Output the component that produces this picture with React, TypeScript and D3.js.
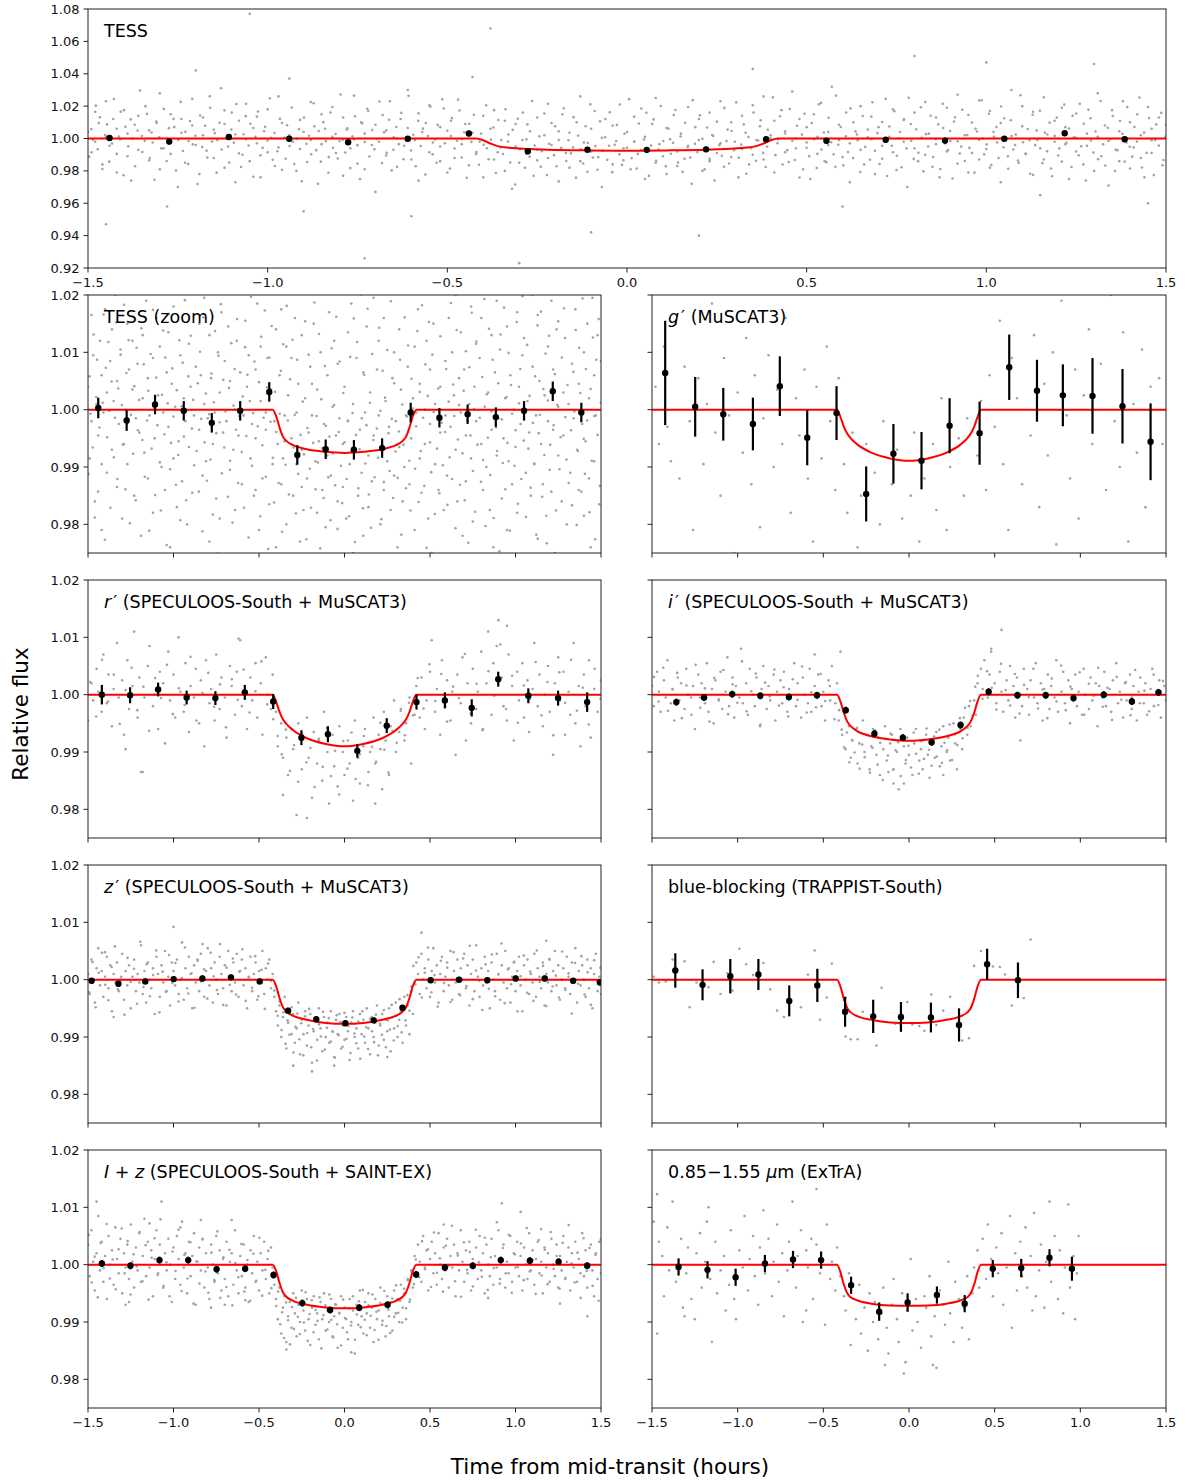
import React from 'react';
import * as d3 from 'd3';

const W = 1187;
const H = 1481;

// ---------- shared axes values ----------
const xTicks = [-1.5, -1.0, -0.5, 0.0, 0.5, 1.0, 1.5];
const topYTicks = [0.92, 0.94, 0.96, 0.98, 1.0, 1.02, 1.04, 1.06, 1.08];
const rowYTicks = [0.98, 0.99, 1.0, 1.01, 1.02];

// model curve sample times (hours)
const modelTimes = [-1.5, -0.42, -0.4, -0.38, -0.36, -0.34, -0.3, -0.22, -0.11, 0, 0.11, 0.22, 0.3, 0.34, 0.36, 0.38, 0.4, 0.42, 1.5];
const tessModel = [1, 1, 0.9989, 0.9969, 0.9953, 0.99455, 0.9938, 0.9931, 0.99265, 0.99245, 0.99265, 0.9931, 0.9938, 0.99455, 0.9953, 0.9969, 0.9989, 1, 1];
const gModel = [1, 1, 0.9987, 0.997, 0.9958, 0.995, 0.9939, 0.9925, 0.9915, 0.9911, 0.9915, 0.9925, 0.9939, 0.995, 0.9958, 0.997, 0.9987, 1, 1];
const rModel = [1, 1, 0.9988, 0.997, 0.9957, 0.9949, 0.9938, 0.9924, 0.9914, 0.991, 0.9914, 0.9924, 0.9938, 0.9949, 0.9957, 0.997, 0.9988, 1, 1];
const iModel = [1, 1, 0.9988, 0.9968, 0.9953, 0.9945, 0.9936, 0.99275, 0.9922, 0.99195, 0.9922, 0.99275, 0.9936, 0.9945, 0.9953, 0.9968, 0.9988, 1, 1];
const zModel = [1, 1, 0.9989, 0.9968, 0.9952, 0.99445, 0.9937, 0.993, 0.99245, 0.9923, 0.99245, 0.993, 0.9937, 0.99445, 0.9952, 0.9968, 0.9989, 1, 1];
const blueModel = [1, 1, 0.9988, 0.9966, 0.995, 0.9943, 0.9936, 0.993, 0.99255, 0.99245, 0.99255, 0.993, 0.9936, 0.9943, 0.995, 0.9966, 0.9988, 1, 1];
const izModel = [1, 1, 0.9989, 0.9968, 0.9952, 0.9944, 0.9937, 0.993, 0.99255, 0.9924, 0.99255, 0.993, 0.9937, 0.9944, 0.9952, 0.9968, 0.9989, 1, 1];
const extraModel = [1, 1, 0.9987, 0.9965, 0.995, 0.9943, 0.99375, 0.9932, 0.99288, 0.99282, 0.99288, 0.9932, 0.99375, 0.9943, 0.995, 0.9965, 0.9987, 1, 1];

// ---------- binned points: [time (h), relative flux, error] ----------
const tessBinned = [[-1.44, 1.0003, 0.0018], [-1.274, 0.9981, 0.0018], [-1.108, 1.0009, 0.0017], [-0.94, 0.9998, 0.0017], [-0.776, 0.9977, 0.0017], [-0.61, 0.9998, 0.0017], [-0.44, 1.0031, 0.0017], [-0.276, 0.9921, 0.0017], [-0.11, 0.9931, 0.0017], [0.055, 0.993, 0.0017], [0.22, 0.9933, 0.0017], [0.387, 0.9995, 0.0017], [0.555, 0.9986, 0.0017], [0.72, 0.9992, 0.0017], [0.885, 0.9987, 0.0017], [1.05, 0.9998, 0.0017], [1.218, 1.0032, 0.0017], [1.385, 0.9995, 0.0017]];
const gBinned = [[-1.423, 1.0064, 0.0091], [-1.248, 1.0005, 0.0052], [-1.084, 0.9992, 0.0046], [-0.911, 0.9975, 0.0046], [-0.754, 1.0041, 0.0052], [-0.594, 0.9951, 0.0048], [-0.423, 0.9994, 0.0047], [-0.25, 0.9853, 0.0048], [-0.091, 0.9923, 0.0052], [0.073, 0.9911, 0.005], [0.237, 0.9972, 0.0048], [0.412, 0.9959, 0.0055], [0.585, 1.0074, 0.0057], [0.747, 1.0033, 0.0054], [0.898, 1.0025, 0.0054], [1.071, 1.0024, 0.0066], [1.246, 1.0006, 0.0065], [1.41, 0.9944, 0.0067]];
const rBinned = [[-1.419, 1.0, 0.0017], [-1.254, 0.9999, 0.0014], [-1.09, 1.0009, 0.0012], [-0.923, 0.9995, 0.0012], [-0.755, 0.9994, 0.0012], [-0.583, 1.0004, 0.0013], [-0.417, 0.9988, 0.0013], [-0.252, 0.9925, 0.0013], [-0.097, 0.9931, 0.0014], [0.075, 0.9902, 0.0012], [0.247, 0.9946, 0.0013], [0.421, 0.9987, 0.0013], [0.587, 0.999, 0.0014], [0.744, 0.9977, 0.0015], [0.899, 1.0027, 0.0013], [1.075, 0.9998, 0.0013], [1.249, 0.9994, 0.0013], [1.419, 0.9987, 0.0017]];
const iBinned = [[-1.358, 0.9987, 0.0006], [-1.196, 0.9995, 0.0006], [-1.032, 1.0001, 0.0006], [-0.868, 0.9998, 0.0006], [-0.701, 0.9996, 0.0006], [-0.537, 0.9999, 0.0006], [-0.369, 0.9973, 0.0006], [-0.202, 0.9932, 0.0006], [-0.036, 0.9925, 0.0006], [0.132, 0.9917, 0.0006], [0.301, 0.9947, 0.0006], [0.465, 1.0005, 0.0006], [0.633, 0.9999, 0.0006], [0.798, 0.9999, 0.0006], [0.96, 0.9994, 0.0006], [1.137, 1.0, 0.0006], [1.301, 0.9988, 0.0006], [1.456, 1.0004, 0.0006]];
const zBinned = [[-1.479, 0.9998, 0.0005], [-1.322, 0.9993, 0.0005], [-1.165, 0.9997, 0.0005], [-0.999, 1.0001, 0.0005], [-0.831, 1.0002, 0.0005], [-0.664, 1.0004, 0.0005], [-0.496, 0.9997, 0.0005], [-0.33, 0.9946, 0.0005], [-0.165, 0.9931, 0.0005], [0.005, 0.9924, 0.0005], [0.171, 0.9929, 0.0005], [0.339, 0.9951, 0.0005], [0.504, 0.9999, 0.0005], [0.67, 1.0, 0.0005], [0.835, 0.9999, 0.0005], [1.001, 1.0002, 0.0005], [1.171, 1.0002, 0.0005], [1.337, 0.9998, 0.0005], [1.494, 0.9995, 0.0005]];
const blueBinned = [[-1.364, 1.0016, 0.003], [-1.205, 0.9991, 0.0027], [-1.043, 1.0006, 0.003], [-0.879, 1.0009, 0.0027], [-0.699, 0.9963, 0.0027], [-0.535, 0.999, 0.0029], [-0.373, 0.9944, 0.0026], [-0.209, 0.9936, 0.0029], [-0.047, 0.9935, 0.0026], [0.128, 0.9934, 0.0026], [0.292, 0.9921, 0.0029], [0.456, 1.0027, 0.0027], [0.636, 0.9999, 0.0031]];
const izBinned = [[-1.419, 1.0002, 0.0006], [-1.252, 0.9998, 0.0006], [-1.082, 1.0008, 0.0006], [-0.914, 1.0008, 0.0006], [-0.748, 0.9992, 0.0006], [-0.581, 0.9993, 0.0006], [-0.415, 0.9982, 0.0006], [-0.247, 0.9933, 0.0006], [-0.084, 0.9921, 0.0006], [0.086, 0.9925, 0.0006], [0.252, 0.993, 0.0006], [0.419, 0.9983, 0.0006], [0.587, 0.9995, 0.0006], [0.75, 0.9998, 0.0006], [0.914, 1.0008, 0.0006], [1.084, 1.0007, 0.0006], [1.252, 1.0005, 0.0006], [1.419, 0.9998, 0.0006]];
const extraBinned = [[-1.345, 0.9996, 0.0015], [-1.176, 0.9991, 0.0015], [-1.012, 0.9978, 0.0015], [-0.841, 1.0002, 0.0015], [-0.677, 1.0009, 0.0015], [-0.513, 1.0008, 0.0015], [-0.338, 0.9964, 0.0015], [-0.174, 0.9918, 0.0016], [-0.008, 0.9934, 0.0016], [0.163, 0.9947, 0.0015], [0.325, 0.9932, 0.0015], [0.489, 0.9993, 0.0015], [0.655, 0.9994, 0.0016], [0.82, 1.0012, 0.0015], [0.951, 0.9993, 0.0021]];

// ---------- unbinned points, flat pairs: time, flux offset from 1 (units of 1e-4) ----------
// arrays named *Grey use time in 0.01 h; arrays named *Grey2 use time in 0.001 h
const tessGrey = [
-150,40,-149,-85,-148,165,-148,-20,-147,95,-146,-160,-145,230,-145,10,-144,-45,-143,120,
-142,-210,-142,60,-141,-5,-140,175,-139,-110,-139,30,-138,-260,-137,85,-136,140,-136,-70,
-135,15,-134,200,-133,-135,-133,50,-132,-25,-131,105,-130,-190,-130,280,-129,-60,-128,0,
-127,150,-127,-95,-126,70,-125,-300,-124,35,-124,120,-123,-150,-122,-15,-121,245,-121,80,
-120,-40,-119,-220,-118,130,-118,20,-117,-75,-116,190,-115,-120,-115,55,-114,-10,-113,310,
-112,-180,-112,90,-111,-50,-110,160,-109,-270,-109,25,-108,110,-107,-100,-106,-5,-106,215,
-105,-140,-104,65,-103,-30,-103,135,-102,-240,-101,45,-100,180,-100,-85,-99,5,-98,-170,
-97,260,-97,-55,-96,95,-95,-125,-94,20,-94,370,-93,-20,-92,-200,-91,115,-91,-65,
-90,40,-89,-145,-88,225,-88,-10,-87,75,-86,-280,-85,150,-85,-35,-84,60,-83,-115,
-82,10,-82,195,-81,-90,-80,-15,-79,130,-79,-230,-78,55,-77,-60,-76,265,-76,-5,
-75,-155,-74,100,-73,30,-73,-190,-72,170,-71,-40,-70,85,-70,-330,-69,-20,-68,145,
-67,-105,-67,50,-66,230,-65,-70,-64,0,-64,-175,-63,120,-62,-45,-61,300,-61,65,
-60,-130,-59,-10,-58,155,-58,-260,-57,40,-56,95,-55,-85,-55,205,-54,-25,-53,-150,
-52,70,-52,-50,-51,185,-50,-210,-49,15,-49,110,-48,-120,-47,240,-46,-35,-46,-5,
-45,90,-44,-165,-43,35,-43,380,-42,-95,-41,-20,-40,140,-40,-240,-39,-60,-38,60,
-37,-130,-37,175,-36,-85,-35,-10,-34,110,-34,-200,-33,25,-32,-310,-31,90,-31,-50,
-30,-150,-29,160,-28,-95,-28,-5,-27,45,-26,-230,-25,130,-25,-70,-24,-175,-23,20,
-22,215,-22,-120,-21,-40,-20,75,-19,-265,-19,-10,-18,150,-17,-90,-16,35,-16,-180,
-15,-55,-14,100,-13,-140,-13,260,-12,-25,-11,-205,-10,60,-10,-80,-9,170,-8,-115,
-7,5,-7,-300,-6,120,-5,-45,-4,-160,-4,80,-3,-15,-2,210,-1,-135,-1,-60,
0,40,1,-190,2,135,2,-20,3,-95,4,185,5,-250,5,10,6,-70,7,90,
8,-150,8,250,9,-35,10,-110,11,65,11,-220,12,-5,13,145,14,-80,14,-170,
15,30,16,-125,17,195,17,-45,18,-280,19,70,20,-10,20,120,21,-200,22,-60,
23,160,23,-140,24,15,25,-90,26,230,26,-30,27,-175,28,55,29,-115,29,100,
30,-20,31,-240,32,140,32,-65,33,35,34,-160,35,205,35,-100,36,-10,37,75,
38,-130,38,260,39,-50,40,20,41,-210,41,110,42,-5,43,175,44,-85,44,45,
45,-145,46,290,47,0,47,-60,48,120,49,-190,50,70,50,-25,51,-250,52,150,
53,10,53,-95,54,220,55,-140,56,40,56,-40,57,320,58,-175,59,85,59,-10,
60,-115,61,160,62,-30,62,-270,63,100,64,25,65,-70,65,200,66,-160,67,55,
68,-5,68,135,69,-220,70,70,71,-45,71,-125,72,245,73,10,74,-85,74,180,
75,-195,76,40,77,-20,77,115,78,-300,79,90,80,-60,80,160,81,-140,82,5,
83,225,83,-100,84,30,85,-175,86,130,86,-35,87,-240,88,65,89,190,89,-80,
90,-15,91,105,92,-155,92,270,93,-50,94,20,95,-210,95,145,96,-90,97,60,
98,-130,98,235,99,0,100,-65,101,170,101,-180,102,40,103,-25,104,95,104,-270,
105,125,106,-110,107,15,107,300,108,-40,109,-150,110,75,110,200,111,-95,112,-10,
113,165,113,-225,114,50,115,-60,116,255,116,-130,117,25,118,-185,119,110,119,-20,
120,-105,121,190,122,-35,122,70,123,-250,124,140,125,5,125,-80,126,215,127,-160,
128,30,128,-45,129,125,130,-200,131,280,131,10,132,-110,133,80,134,-15,134,-290,
135,175,136,-70,137,45,137,-140,138,230,139,-25,140,100,140,-185,141,-55,142,150,
143,-120,143,20,144,-240,145,195,146,60,146,-90,147,-10,148,130,149,-165,150,85,
-105,770,-38,680,-73,-740,-30,-770,-145,-530,80,510,20,-600,130,460,-10,-580,60,-420,
100,470,-120,420,-90,-450,145,-400,-60,-480,35,430,-128,-420,115,-350
];

const tessGrey2 = [
-1497,-112,-1491,58,-1486,-7,-1478,203,-1473,-66,-1467,131,-1460,-188,-1452,22,-1447,87,-1441,-143,
-1433,-31,-1428,244,-1420,-95,-1414,12,-1409,166,-1401,-227,-1396,73,-1388,-48,-1381,118,-1376,-2,
-1369,-171,-1362,49,-1355,296,-1349,-83,-1342,-14,-1336,152,-1328,-121,-1323,37,-1315,-255,-1309,96,
-1302,8,-1296,-61,-1289,183,-1281,-139,-1275,64,-1270,-24,-1262,121,-1255,-198,-1249,-9,-1242,226,
-1236,-77,-1229,41,-1221,-158,-1216,108,-1208,-36,-1201,17,-1195,-281,-1188,142,-1182,-53,-1174,79,
-1168,-117,-1161,261,-1155,-19,-1147,33,-1142,-211,-1134,97,-1128,-68,-1120,174,-1115,4,-1107,-149,
-1101,56,-1094,-27,-1087,213,-1080,-92,-1074,-176,-1067,26,-1061,138,-1053,-43,-1048,91,-1040,-236,
-1034,11,-1027,167,-1020,-104,-1014,-58,-1007,72,-1000,-12,-994,249,-986,-131,-981,34,-973,-79,
-966,121,-960,-193,-953,6,-946,82,-939,-47,-933,191,-926,-158,-919,-1,-913,58,-905,-264,
-899,129,-892,-33,-885,17,-879,-97,-872,218,-865,-72,-858,46,-852,-143,-845,101,-838,-16,
-831,-212,-825,161,-818,-57,-811,28,-805,-124,-797,272,-791,-8,-784,-87,-778,63,-770,-183,
-764,13,-757,137,-750,-41,-743,-251,-737,94,-730,-22,-723,184,-717,-111,-709,52,-703,-66,
-696,-3,-689,229,-682,-152,-676,38,-669,-89,-662,116,-655,-197,-649,7,-642,71,-635,-35,
-628,158,-622,-128,-615,-11,-608,264,-601,-74,-595,23,-588,-171,-581,109,-574,-46,-568,61,
-561,-223,-554,15,-547,197,-541,-98,-534,-6,-527,84,-520,-140,-514,242,-507,-29,-500,48,
-493,-186,-487,127,-480,-62,-473,-14,-466,173,-460,-117,-453,39,-446,-243,-439,91,-433,-21,
-426,146,-419,-84,-412,-162,-406,31,-399,-39,-392,205,-385,-128,-379,-7,-372,68,-365,-213,
-358,114,-352,-55,-345,-96,-338,181,-331,-19,-325,-148,-318,53,-311,-284,-304,122,-298,-66,
-291,-9,-284,-181,-277,87,-271,-112,-264,231,-257,-44,-250,-135,-244,14,-237,-78,-230,154,
-223,-226,-217,-32,-210,96,-203,-103,-196,-171,-190,45,-183,-58,-176,187,-169,-139,-163,-11,
-156,-92,-149,132,-142,-242,-136,18,-129,-67,-122,-154,-115,76,-109,-28,-102,211,-95,-118,
-88,-47,-82,-193,-75,107,-68,-76,-61,8,-55,-132,-48,162,-41,-208,-34,-39,-28,84,
-21,-98,-14,-163,-7,29,0,-57,6,243,13,-121,20,-19,27,-186,33,92,40,-72,
47,-6,54,159,61,-231,67,-44,74,118,81,-137,88,-69,94,201,101,-15,108,-172,
115,61,122,-94,128,-27,135,176,142,-148,149,12,155,-206,162,97,169,-53,176,-118,
183,237,189,-33,196,-84,203,143,210,-2,216,-191,223,68,230,-126,237,21,244,-259,
250,104,257,-41,264,-107,271,189,277,-16,284,-154,291,46,298,-73,304,223,311,-119,
318,-38,325,87,332,-218,338,9,345,-61,352,161,359,-137,365,-12,372,112,379,-89,
386,-176,392,54,399,2,406,254,413,-103,419,-29,426,137,433,-161,440,31,446,-72,
453,182,460,-14,467,-133,473,79,480,-241,487,24,494,153,500,-57,507,-109,514,96,
521,-4,528,-182,534,211,541,-68,548,37,555,-146,561,128,568,-23,575,-97,582,265,
588,-39,595,71,602,-166,609,14,615,-83,622,186,629,-121,636,44,642,-11,649,-207,
656,139,663,-52,670,8,676,-131,683,224,690,-76,697,33,703,-158,710,102,717,-19,
724,-232,730,74,737,-45,744,169,751,-107,757,1,764,-178,771,119,778,-61,784,252,
791,-14,798,-126,805,57,811,-88,818,193,825,-203,832,27,838,-49,845,141,852,-114,
859,-3,866,87,872,-189,879,214,886,-31,893,-72,899,46,906,-247,913,131,920,-17,
926,-93,933,178,940,-139,947,22,953,-58,960,99,967,-211,974,43,980,-7,987,236,
994,-98,1001,-36,1007,153,1014,-164,1021,11,1028,71,1034,-121,1041,198,1048,-54,1055,-2,
1061,-187,1068,113,1075,-68,1082,24,1088,-136,1095,267,1102,-23,1109,-94,1115,58,1122,-218,
1129,147,1136,-41,1142,-9,1149,171,1156,-152,1163,36,1169,-79,1176,98,1183,-233,1190,16,
1196,129,1203,-61,1210,-143,1217,209,1223,-27,1230,62,1237,-176,1244,8,1250,154,1257,-104,
1264,-48,1271,91,1277,-259,1284,177,1291,-13,1298,-87,1304,43,1311,-128,1318,232,1325,-36,
1331,-167,1338,66,1345,-3,1352,139,1358,-201,1365,-72,1372,108,1379,29,1385,-143,1392,194,
1399,-51,1406,-112,1412,71,1419,-19,1426,253,1433,-179,1439,36,1446,-89,1453,126,1460,-11,
1466,-226,1473,87,1480,-44,1487,158,1493,-133,1499,12
];

const gGrey = [
-148,40,-146,-60,-143,110,-141,-30,-139,-90,-136,150,-134,-120,-131,75,-128,-20,-126,-210,
-123,55,-120,-95,-118,10,-115,185,-113,-40,-110,-150,-108,90,-105,-10,-102,-250,-100,30,
-97,-75,-95,125,-92,-130,-90,60,-87,-205,-85,-15,-82,95,-79,-100,-77,35,-74,-60,
-72,160,-69,-180,-66,20,-64,-45,-61,70,-59,-120,-56,-230,-54,40,-51,-85,-48,110,
-46,-20,-43,-140,-41,55,-38,-95,-36,-180,-33,-40,-30,-240,-28,-150,-25,-60,-23,-310,
-20,-110,-17,-200,-15,-20,-12,-280,-10,-130,-7,-70,-4,-190,-2,-330,1,-150,3,-40,
6,-230,9,-120,11,-290,14,-60,16,-175,19,20,22,-210,24,-100,27,-330,29,-50,
32,-150,34,-15,37,-260,40,-80,42,15,45,-140,47,60,50,-30,53,155,55,-95,
58,-210,60,90,63,20,66,-130,68,215,71,-45,73,130,76,-170,79,45,81,-80,
84,100,86,-235,89,190,92,-10,94,-120,97,70,99,-190,102,25,105,140,107,-60,
110,-280,112,80,115,-140,118,200,120,-20,123,-100,125,135,128,-230,131,10,133,-75,
136,105,138,-170,141,40,144,-300,146,55,148,-60
];

const rGrey = [
-150,-45,-148,20,-147,-10,-145,45,-144,5,-142,-30,-141,70,-139,-15,-138,35,-136,-55,
-135,10,-133,90,-132,-5,-130,25,-129,-70,-127,60,-126,-25,-124,15,-123,110,-121,-40,
-120,30,-118,-135,-117,-5,-115,50,-114,85,-112,-20,-111,0,-109,-60,-108,40,-106,20,
-105,-85,-103,75,-102,-10,-100,35,-99,-40,-97,100,-96,5,-94,-30,-93,55,-91,-65,
-90,15,-88,-5,-87,45,-85,-50,-84,25,-82,-90,-81,60,-79,-15,-78,10,-76,-45,
-75,70,-73,-25,-72,30,-70,-5,-69,-75,-67,50,-66,15,-64,-35,-63,40,-61,95,
-60,-20,-58,5,-57,-60,-55,30,-54,-10,-52,55,-51,-40,-49,20,-48,-70,-46,65,
-45,0,-43,-25,-42,35,-40,-30,-39,-90,-37,-50,-36,-110,-34,-75,-33,-140,-31,-60,
-30,-95,-28,-210,-27,-50,-25,-130,-24,-75,-22,-40,-21,-110,-19,-180,-18,-65,-16,-120,
-15,-80,-13,-150,-12,-30,-10,-100,-9,-190,-7,-70,-6,-125,-4,-160,-3,-55,-1,-100,
0,-140,2,-80,3,-120,5,-185,6,-45,8,-110,9,-155,11,-90,12,-60,14,-135,
15,-100,17,-40,18,-120,20,-70,21,-95,23,-30,24,-80,26,-140,27,-55,29,-10,
30,-100,32,-65,33,-25,35,-80,36,-50,38,-5,39,-120,41,-35,42,15,44,-40,
45,30,47,-60,48,-10,50,40,51,95,53,-30,54,10,56,-70,57,60,59,-20,
60,25,62,-45,63,5,65,-105,66,35,68,-15,69,65,71,-80,72,20,74,-50,
75,45,77,-25,78,5,80,75,81,-60,83,20,84,110,86,-35,87,55,89,85,
90,130,92,30,93,-20,95,-45,96,70,98,15,99,-80,101,40,102,-10,104,55,
105,-40,107,25,108,-65,110,10,111,90,113,-20,114,35,116,-55,117,0,119,50,
120,-30,122,-105,123,20,125,65,126,-10,128,40,129,-70,131,5,132,-35,134,90,
135,-50,137,15,138,-90,140,35,141,-20,143,60,144,-75,146,10,148,-30,150,25,
-36,-175,-22,-215,18,-190,22,-165,-119,-135,95,120,-62,98,-128,-95
];

const rGrey2 = [
-1487,22,-1452,-38,-1418,61,-1383,-12,-1349,35,-1314,-51,-1280,8,-1245,47,-1211,-27,-1176,14,
-1142,-63,-1107,29,-1073,-6,-1038,52,-1004,-34,-969,11,-935,-18,-900,66,-866,-45,-831,3,
-797,38,-762,-21,-728,18,-693,-57,-659,27,-624,-9,-590,44,-555,-31,-521,6,-486,58,
-452,-17,-417,-43,-391,-72,-367,-104,-343,-61,-319,-133,-295,-88,-271,-152,-247,-69,-223,-118,
-199,-93,-175,-161,-151,-77,-127,-126,-103,-58,-79,-142,-55,-98,-31,-174,-7,-81,17,-129,
41,-66,65,-147,89,-104,113,-72,137,-158,161,-91,185,-117,209,-49,233,-96,257,-136,
281,-63,305,-84,329,-28,353,-71,377,-14,401,-36,428,29,462,-24,497,53,531,-11,
566,36,600,-47,635,14,669,-6,704,71,738,-33,773,19,807,-62,842,41,876,-2,
911,88,945,-25,980,33,1014,-49,1049,16,1083,-8,1118,57,1152,-36,1187,22,1221,-71,
1256,39,1290,-14,1325,61,1359,-28,1394,12,1428,-52,1463,45,1497,-7
];

const iGrey = [
-150,15,-149,-20,-147,40,-146,5,-145,-30,-143,25,-142,-5,-141,60,-139,-15,-138,10,
-137,-45,-135,30,-134,-10,-133,20,-131,-25,-130,45,-129,0,-127,-35,-126,15,-125,-60,
-123,35,-122,-5,-121,20,-119,-15,-118,55,-117,-30,-115,10,-114,-50,-113,25,-111,-10,
-110,40,-109,-25,-107,5,-106,65,-105,-20,-103,30,-102,-40,-101,15,-99,-5,-98,80,
-97,-15,-95,20,-94,-35,-93,45,-91,0,-90,-20,-89,30,-87,-55,-86,10,-85,50,
-83,-25,-82,15,-81,-10,-79,35,-78,-45,-77,5,-75,25,-74,-15,-73,40,-71,-30,
-70,10,-69,-5,-67,55,-66,-20,-65,20,-63,-40,-62,30,-61,0,-59,-15,-58,45,
-57,-30,-55,15,-54,-5,-53,35,-51,-20,-50,5,-49,-45,-47,25,-46,-10,-45,50,
-43,-15,-42,20,-41,-45,-39,-70,-38,-25,-37,-95,-35,-55,-34,-110,-33,-80,-31,-60,
-30,-120,-29,-85,-27,-45,-26,-100,-25,-70,-23,-130,-22,-90,-21,-60,-19,-105,-18,-75,
-17,-140,-15,-95,-14,-55,-13,-115,-11,-85,-10,-70,-9,-130,-7,-100,-6,-165,-5,-60,
-3,-90,-2,-120,-1,-75,0,-105,2,-140,3,-85,4,-60,6,-115,7,-95,8,-130,
10,-70,11,-105,12,-145,14,-80,15,-110,16,-65,18,-125,19,-90,20,-55,22,-100,
23,-75,24,-115,26,-50,27,-85,28,-130,30,-60,31,-95,32,-40,34,-70,35,-20,
36,-55,38,-10,39,-35,40,20,42,45,43,10,44,60,46,-5,47,35,48,80,
50,20,51,-15,53,40,54,5,55,-30,57,25,58,-10,59,50,61,15,62,-40,
63,30,65,0,66,-20,67,45,69,10,70,-35,71,25,73,-5,74,55,75,-15,
77,20,78,-45,79,10,81,35,82,-25,83,15,85,-5,86,60,87,-30,89,5,
90,40,91,-15,93,25,94,-50,95,10,97,35,98,-20,99,5,101,-35,102,45,
103,0,105,-25,106,30,107,-10,109,20,110,-55,111,15,113,-5,114,40,115,-20,
117,10,118,-30,119,25,121,55,122,-15,123,5,125,-40,126,20,127,-10,129,35,
130,-25,131,15,133,-45,134,5,135,30,137,-15,138,20,139,-35,141,10,142,45,
143,-20,145,0,146,25,147,-40,149,15,150,-10,
54,113,48,75,-9,-155,-3,-155,-12,-135,65,-80,-55,70,-40,75,20,-140,130,-5
];

const iGrey2 = [
-1488,31,-1461,-12,-1434,47,-1407,-28,-1380,9,-1353,38,-1326,-41,-1299,16,-1272,-5,-1245,52,
-1218,-23,-1191,11,-1164,-47,-1137,29,-1110,-8,-1083,43,-1056,-34,-1029,18,-1002,-14,-975,58,
-948,-29,-921,6,-894,37,-867,-52,-840,21,-813,-3,-786,44,-759,-19,-732,13,-705,-38,
-678,27,-651,-9,-624,49,-597,-31,-570,4,-543,-22,-516,36,-489,-11,-462,15,-435,-43,
-408,-27,-393,-61,-378,-92,-363,-66,-348,-118,-333,-79,-318,-101,-303,-58,-288,-129,-273,-87,
-258,-109,-243,-71,-228,-136,-213,-93,-198,-62,-183,-122,-168,-84,-153,-149,-138,-77,-123,-106,
-108,-68,-93,-131,-78,-97,-63,-83,-48,-142,-33,-72,-18,-114,-3,-89,12,-127,27,-66,
42,-103,57,-138,72,-81,87,-112,102,-59,117,-96,132,-124,147,-73,162,-108,177,-61,
192,-119,207,-84,222,-97,237,-52,252,-114,267,-69,282,-88,297,-41,312,-76,327,-23,
342,-58,357,-11,372,-37,387,14,402,33,429,-7,456,41,483,12,510,-26,537,54,
564,8,591,-19,618,36,645,-33,672,17,699,-4,726,45,753,-24,780,9,807,-41,
834,28,861,-12,888,51,915,-27,942,14,969,-6,996,39,1023,-35,1050,19,1077,-2,
1104,47,1131,-21,1158,12,1185,-44,1212,31,1239,-9,1266,22,1293,-36,1320,43,1347,-15,
1374,7,1401,-29,1428,35,1455,-18,1482,24
];

const zGrey = [
-150,10,-149,-25,-148,35,-147,0,-146,-40,-145,20,-144,55,-143,-10,-142,15,-141,-30,
-140,5,-139,40,-138,-15,-137,25,-136,-55,-135,10,-134,-5,-133,30,-132,-20,-131,0,
-130,45,-129,-35,-128,15,-127,-10,-126,25,-125,-50,-124,5,-123,35,-122,-20,-121,10,
-120,-5,-119,60,-118,-25,-117,15,-116,-40,-115,30,-114,0,-113,-15,-112,20,-111,-60,
-110,40,-109,10,-108,-30,-107,25,-106,-5,-105,50,-104,-20,-103,5,-102,-45,-101,30,
-100,15,-99,-10,-98,35,-97,-25,-96,0,-95,65,-94,-35,-93,20,-92,-15,-91,40,
-90,10,-89,-50,-88,25,-87,-5,-86,35,-85,-20,-84,45,-83,5,-82,-30,-81,15,
-80,55,-79,-10,-78,20,-77,-40,-76,30,-75,0,-74,-25,-73,40,-72,10,-71,-15,
-70,25,-69,-45,-68,50,-67,5,-66,-20,-65,30,-64,-5,-63,45,-62,-30,-61,15,
-60,35,-59,-10,-58,20,-57,-50,-56,5,-55,40,-54,-20,-53,10,-52,30,-51,-35,
-50,15,-49,-5,-48,50,-47,-25,-46,20,-45,0,-44,35,-43,-15,-42,10,-41,-30,
-40,-55,-39,-80,-38,-45,-37,-100,-36,-65,-35,-30,-34,-120,-33,-75,-32,-55,-31,-95,
-30,-60,-29,-110,-28,-85,-27,-40,-26,-130,-25,-70,-24,-95,-23,-55,-22,-115,-21,-80,
-20,-60,-19,-145,-18,-90,-17,-70,-16,-105,-15,-50,-14,-85,-13,-125,-12,-65,-11,-100,
-10,-75,-9,-110,-8,-55,-7,-90,-6,-135,-5,-70,-4,-95,-3,-60,-2,-120,-1,-80,
0,-105,1,-65,2,-90,3,-140,4,-75,5,-55,6,-100,7,-85,8,-120,9,-60,
10,-95,11,-70,12,-110,13,-50,14,-85,15,-130,16,-65,17,-100,18,-75,19,-45,
20,-115,21,-80,22,-60,23,-105,24,-70,25,-90,26,-50,27,-125,28,-65,29,-85,
30,-40,31,-100,32,-70,33,-55,34,-110,35,-30,36,-80,37,-45,38,-95,39,-20,
40,-60,41,-5,42,30,43,10,44,-25,45,45,46,0,47,20,48,-15,49,35,
50,-30,51,15,52,55,53,-5,54,25,55,-40,56,10,57,40,58,-20,59,5,
60,30,61,-10,62,50,63,-35,64,15,65,-5,66,35,67,-25,68,20,69,0,
70,45,71,-15,72,25,73,-45,74,10,75,35,76,-20,77,60,78,5,79,-30,
80,20,81,-10,82,40,83,-5,84,15,85,-50,86,30,87,0,88,-20,89,45,
90,10,91,-35,92,25,93,-5,94,50,95,-15,96,20,97,-40,98,5,99,30,
100,-20,101,15,102,40,103,-10,104,-55,105,25,106,0,107,35,108,-25,109,10,
110,-5,111,45,112,-30,113,20,114,5,115,-15,116,30,117,-45,118,10,119,-5,
120,35,121,-20,122,15,123,50,124,-10,125,25,126,-35,127,0,128,20,129,-15,
130,40,131,5,132,-25,133,30,134,-5,135,55,136,-40,137,15,138,-10,139,25,
140,0,141,-30,142,35,143,-15,144,20,145,-50,146,10,147,45,148,-20,149,5,
150,-25,-100,92,-135,-65,-19,-160,-6,-150,45,82,-140,48,-83,62,118,68,-30,-150,25,-135
];

const zGrey2 = [
-1493,-22,-1474,31,-1455,-48,-1437,12,-1418,47,-1399,-9,-1381,-36,-1362,22,-1343,58,-1325,-17,
-1306,5,-1287,-61,-1269,38,-1250,-4,-1231,19,-1213,-42,-1194,66,-1175,-13,-1157,27,-1138,-29,
-1119,8,-1101,51,-1082,-57,-1063,14,-1045,-21,-1026,43,-1007,-6,-989,29,-970,-38,-951,3,
-933,56,-914,-24,-895,11,-877,-49,-858,33,-839,-3,-821,18,-802,-33,-783,47,-765,6,
-746,-18,-727,62,-709,-44,-690,21,-671,-9,-653,37,-634,-26,-615,14,-597,53,-578,-37,
-559,4,-541,-14,-522,41,-503,-29,-485,17,-466,-51,-447,28,-429,-2,-410,-19,-391,-63,
-379,-38,-368,-88,-356,-57,-345,-112,-333,-71,-322,-96,-310,-48,-299,-127,-287,-82,-276,-59,
-264,-104,-253,-76,-241,-132,-230,-64,-218,-93,-207,-51,-195,-118,-184,-86,-172,-69,-161,-141,
-149,-78,-138,-99,-126,-56,-115,-122,-103,-84,-92,-67,-80,-108,-69,-91,-57,-136,-46,-62,
-34,-97,-23,-74,-11,-117,0,-58,12,-103,23,-81,35,-128,46,-66,58,-94,69,-111,
81,-73,92,-138,104,-55,115,-99,127,-83,138,-121,150,-68,161,-90,173,-109,184,-61,
196,-132,207,-77,219,-96,230,-53,242,-118,253,-71,265,-87,276,-44,288,-106,299,-63,
311,-81,322,-34,334,-92,345,-49,357,-71,368,-27,380,-54,391,-12,403,24,414,-8,
433,39,452,-31,470,12,489,56,508,-22,526,8,545,-47,564,33,582,-6,601,21,
620,-39,638,48,657,2,676,-27,694,37,713,-11,732,59,750,-34,769,16,788,-2,
806,-53,825,27,844,-16,862,44,881,-29,900,9,918,63,937,-41,956,18,974,-8,
993,31,1012,-55,1030,6,1049,42,1068,-23,1086,14,1105,-37,1124,51,1142,-4,1161,24,
1180,-46,1198,36,1217,-12,1236,7,1254,-31,1273,49,1292,-18,1310,11,1329,-59,1348,29,
1366,-7,1385,41,1404,-26,1422,13,1441,-44,1460,34,1478,-3,1497,21
];

const blueGrey = [
-149,5,-146,-5,-142,-3,-138,35,-131,32,-128,-48,-124,-5,-117,-13,-114,31,-110,-25,
-106,11,-103,-19,-99,54,-95,27,-91,8,-85,29,-81,-17,-77,-54,-73,-65,-63,-48,
-59,9,-55,51,-52,-70,-48,-31,-45,28,-37,-31,-37,-99,-34,-104,-30,-104,-27,-56,
-19,-115,-16,-14,-8,-77,-5,-78,-1,-39,2,-78,6,-81,9,-89,13,-26,16,-79,
20,-54,24,-30,31,-106,35,-102,38,24,42,50,49,23,53,22,56,9,60,-45,
67,-32,71,70
];

const izGrey = [
-150,35,-149,-20,-148,60,-147,5,-146,-45,-145,20,-144,85,-143,-10,-142,40,-141,-30,
-140,15,-139,-60,-138,50,-137,0,-136,25,-135,-35,-134,65,-133,10,-132,-15,-131,45,
-130,-50,-129,20,-128,-5,-127,35,-126,-25,-125,70,-124,5,-123,-40,-122,30,-121,-10,
-120,55,-119,-30,-118,15,-117,80,-116,-20,-115,40,-114,-5,-113,25,-112,-55,-111,10,
-110,60,-109,-15,-108,35,-107,110,-106,-40,-105,20,-104,-10,-103,45,-102,0,-101,-65,
-100,30,-99,-25,-98,50,-97,10,-96,-35,-95,75,-94,-5,-93,20,-92,-50,-91,40,
-90,-20,-89,15,-88,55,-87,-70,-86,5,-85,30,-84,-10,-83,45,-82,-40,-81,20,
-80,-5,-79,-60,-78,35,-77,0,-76,-30,-75,50,-74,-15,-73,25,-72,-45,-71,10,
-70,-25,-69,40,-68,-55,-67,5,-66,20,-65,-35,-64,60,-63,-10,-62,-50,-61,15,
-60,-20,-59,35,-58,-40,-57,0,-56,-65,-55,25,-54,-15,-53,50,-52,-30,-51,5,
-50,-45,-49,20,-48,-10,-47,40,-46,-25,-45,10,-44,-50,-43,30,-42,-5,-41,-35,
-40,-60,-39,-95,-38,-40,-37,-120,-36,-75,-35,-55,-34,-135,-33,-90,-32,-65,-31,-110,
-30,-50,-29,-85,-28,-125,-27,-70,-26,-100,-25,-45,-24,-80,-23,-115,-22,-60,-21,-95,
-20,-140,-19,-75,-18,-55,-17,-105,-16,-85,-15,-130,-14,-65,-13,-95,-12,-50,-11,-115,
-10,-80,-9,-100,-8,-60,-7,-125,-6,-90,-5,-70,-4,-145,-3,-85,-2,-55,-1,-110,
0,-75,1,-95,2,-130,3,-60,4,-100,5,-80,6,-155,7,-70,8,-105,9,-45,
10,-90,11,-120,12,-65,13,-85,14,-50,15,-110,16,-75,17,-135,18,-60,19,-95,
20,-80,21,-40,22,-105,23,-70,24,-125,25,-55,26,-90,27,-65,28,-115,29,-45,
30,-85,31,-60,32,-100,33,-35,34,-75,35,-50,36,-95,37,-25,38,-65,39,-10,
40,-40,41,15,42,-20,43,35,44,5,45,-30,46,50,47,-5,48,25,49,-45,
50,10,51,40,52,-15,53,20,54,-35,55,55,56,0,57,-25,58,30,59,-10,
60,45,61,-40,62,15,63,-5,64,35,65,-55,66,20,67,-10,68,60,69,5,
70,-30,71,25,72,-15,73,40,74,-45,75,10,76,-5,77,30,78,-25,79,50,
80,-10,81,20,82,-50,83,35,84,0,85,-20,86,45,87,-35,88,15,89,-5,
90,60,91,-25,92,10,93,35,94,-40,95,5,96,-15,97,50,98,-30,99,20,
100,-5,101,40,102,-20,103,15,104,-45,105,30,106,0,107,-25,108,55,109,-10,
110,25,111,-35,112,10,113,40,114,-15,115,5,116,-50,117,30,118,-5,119,20,
120,-30,121,45,122,0,123,-20,124,35,125,-40,126,15,127,-10,128,50,129,-25,
130,5,131,30,132,-45,133,20,134,-5,135,40,136,-30,137,10,138,-15,139,55,
140,-20,141,25,142,-40,143,0,144,35,145,-10,146,-55,147,20,148,-25,149,40,
150,-15,-145,110,92,107,103,92,-34,-148,4,-153,142,-90,-128,-70,-96,65,-78,-75,
-84,78,-70,-70,-114,72,-58,-62,58,70,84,-58,115,62,126,-68,-126,-65,-66,78
];

const izGrey2 = [
-1496,52,-1478,-31,-1461,14,-1443,-57,-1426,38,-1408,-6,-1391,71,-1373,-24,-1356,9,-1338,-43,
-1321,27,-1303,63,-1286,-15,-1268,41,-1251,-52,-1233,18,-1216,-3,-1198,57,-1181,-29,-1163,34,
-1146,-61,-1128,12,-1111,46,-1093,-18,-1076,79,-1058,-37,-1041,4,-1023,-55,-1006,23,-988,-11,
-971,61,-953,-46,-936,17,-918,-24,-901,39,-883,-68,-866,6,-848,-33,-831,44,-813,-12,
-796,-49,-778,21,-761,-27,-743,58,-726,-58,-708,13,-691,-39,-673,26,-656,-71,-638,3,
-621,-22,-603,36,-586,-47,-568,8,-551,-63,-533,19,-516,-28,-498,47,-481,-54,-463,-9,
-446,24,-428,-41,-411,-18,-399,-72,-388,-47,-376,-104,-365,-83,-353,-128,-342,-66,-330,-97,
-319,-139,-307,-74,-296,-112,-284,-58,-273,-91,-261,-121,-250,-69,-238,-101,-227,-48,-215,-133,
-204,-86,-192,-62,-181,-118,-169,-79,-158,-98,-146,-57,-135,-146,-123,-88,-112,-71,-100,-113,
-89,-52,-77,-96,-66,-127,-54,-69,-43,-104,-31,-84,-20,-141,-8,-61,3,-93,15,-118,
26,-76,38,-106,49,-55,61,-131,72,-87,84,-64,95,-109,107,-44,118,-96,130,-123,
141,-71,153,-89,164,-52,176,-114,187,-82,199,-131,210,-67,222,-98,233,-46,245,-107,
256,-78,268,-119,279,-59,291,-91,302,-36,314,-84,325,-63,337,-101,348,-42,360,-76,
371,-27,383,-61,394,-13,406,-34,417,9,436,-22,453,41,471,-8,488,27,506,-39,
523,56,541,-14,558,11,576,-47,593,33,611,-2,628,68,646,-29,663,16,681,-56,
698,39,716,-9,733,22,751,-38,768,61,786,4,803,-21,821,47,838,-44,856,13,
873,-6,891,74,908,-33,926,29,943,-15,961,52,978,-49,996,18,1013,-4,1031,37,
1048,-27,1066,64,1083,-12,1101,8,1118,-51,1136,43,1153,-19,1171,26,1188,-34,1206,57,
1223,-7,1241,15,1258,-42,1276,38,1293,-23,1311,69,1328,2,1346,-31,1363,21,1381,-58,
1398,46,1416,-11,1433,29,1451,-37,1468,17,1486,-63,1499,44
];

const extraGrey = [
-149,75,-147,-120,-146,40,-144,15,-143,-55,-141,65,-140,-10,-138,110,-136,-30,-135,0,
-133,45,-132,-75,-130,-15,-129,30,-127,-60,-125,-95,-124,20,-122,55,-121,-40,-119,5,
-118,75,-116,-25,-115,-135,-113,40,-112,-50,-110,-10,-108,15,-107,-80,-105,-35,-104,60,
-102,-60,-101,-95,-99,25,-97,-5,-96,85,-94,-45,-93,10,-91,50,-90,-20,-88,-70,
-87,30,-85,95,-84,-15,-82,45,-80,-55,-79,5,-77,70,-76,-30,-74,20,-73,-90,
-71,-10,-70,40,-68,110,-66,-40,-65,15,-63,60,-62,-100,-60,25,-59,-5,-57,45,
-56,-60,-54,35,-52,-15,-51,10,-49,-105,-48,70,-46,-25,-45,5,-43,-45,-42,30,
-40,-20,-38,-55,-37,-80,-35,-15,-34,-140,-32,-60,-31,-95,-29,-35,-28,-120,-26,-75,
-24,-150,-23,-50,-21,-100,-20,-65,-18,-130,-16,-85,-15,-40,-13,-110,-12,-155,-10,-70,
-9,-25,-7,-95,-6,-135,-4,-50,-2,-170,-1,-80,1,10,2,-115,4,-60,5,-100,
7,-145,9,-55,10,-75,12,-20,13,-125,15,-90,16,-180,18,-45,20,-70,21,-105,
23,5,24,-85,26,-135,27,-30,29,-60,31,-110,32,-75,34,-20,35,-130,37,-50,
38,-5,40,25,41,-40,43,45,45,-25,46,70,48,10,49,-55,51,30,52,-15,
54,55,55,-70,57,-5,59,85,60,-110,62,20,63,-45,65,40,66,-20,68,65,
69,-40,71,15,73,90,74,-55,76,-10,77,35,79,-75,80,5,82,110,83,-30,
85,50,87,-60,88,25,90,-85,91,-5,93,105,94,-40,96,15,97,-95,99,50,
-54,132,-147,123,-117,100,-131,-90,-60,-80,-14,-175,-3,-190,14,-175,72,-80,98,-15
];

// ---------- panel texts ----------
type Seg = { t: string; i?: boolean; dx?: number };
const labelTess: Seg[] = [{ t: 'TESS' }];
const labelTessZoom: Seg[] = [{ t: 'TESS (zoom)' }];
const labelG: Seg[] = [{ t: 'g', i: true }, { t: '\u2032', dx: 2 }, { t: ' (MuSCAT3)' }];
const labelR: Seg[] = [{ t: 'r', i: true }, { t: '\u2032', dx: 2 }, { t: ' (SPECULOOS-South + MuSCAT3)' }];
const labelI: Seg[] = [{ t: 'i', i: true }, { t: '\u2032', dx: 2 }, { t: ' (SPECULOOS-South + MuSCAT3)' }];
const labelZ: Seg[] = [{ t: 'z', i: true }, { t: '\u2032', dx: 2 }, { t: ' (SPECULOOS-South + MuSCAT3)' }];
const labelBlue: Seg[] = [{ t: 'blue-blocking (TRAPPIST-South)' }];
const labelIZ: Seg[] = [{ t: 'I', i: true }, { t: ' + ' }, { t: 'z', i: true }, { t: ' (SPECULOOS-South + SAINT-EX)' }];
const labelExtra: Seg[] = [{ t: '0.85\u22121.55 ' }, { t: '\u03bc', i: true }, { t: 'm (ExTrA)' }];

const xLabel = 'Time from mid-transit (hours)';
const yLabel = 'Relative flux';

// ---------- layout ----------
const LEFT_X = 88;
const RIGHT_X = 652;
const HALF_W = [513, 514];
const FULL_W = 1078;
const ROW_TOPS = [295, 580, 865, 1150];
const ROW_H = 258;
const FONT = '"DejaVu Sans", sans-serif';

type GreySet = { data: number[]; unit: number };
const tessSets: GreySet[] = [{ data: tessGrey, unit: 100 }, { data: tessGrey2, unit: 1000 }];

interface PanelSpec {
  id: string;
  label: Seg[];
  grey: GreySet[];
  binned: number[][];
  model: number[];
  x: number;
  y: number;
  w: number;
  h: number;
  yDomain: [number, number];
  yTicks: number[];
  yLabels: boolean;
  xLabels: boolean;
}

const panels: PanelSpec[] = [
  { id: 'tess', label: labelTess, grey: tessSets, binned: tessBinned, model: tessModel, x: LEFT_X, y: 9, w: FULL_W, h: 259, yDomain: [0.92, 1.08], yTicks: topYTicks, yLabels: true, xLabels: true },
  { id: 'tessz', label: labelTessZoom, grey: tessSets, binned: tessBinned, model: tessModel, x: LEFT_X, y: ROW_TOPS[0], w: HALF_W[0], h: ROW_H, yDomain: [0.975, 1.02], yTicks: rowYTicks, yLabels: true, xLabels: false },
  { id: 'g', label: labelG, grey: [{ data: gGrey, unit: 100 }], binned: gBinned, model: gModel, x: RIGHT_X, y: ROW_TOPS[0], w: HALF_W[1], h: ROW_H, yDomain: [0.975, 1.02], yTicks: rowYTicks, yLabels: false, xLabels: false },
  { id: 'r', label: labelR, grey: [{ data: rGrey, unit: 100 }, { data: rGrey2, unit: 1000 }], binned: rBinned, model: rModel, x: LEFT_X, y: ROW_TOPS[1], w: HALF_W[0], h: ROW_H, yDomain: [0.975, 1.02], yTicks: rowYTicks, yLabels: true, xLabels: false },
  { id: 'i', label: labelI, grey: [{ data: iGrey, unit: 100 }, { data: iGrey2, unit: 1000 }], binned: iBinned, model: iModel, x: RIGHT_X, y: ROW_TOPS[1], w: HALF_W[1], h: ROW_H, yDomain: [0.975, 1.02], yTicks: rowYTicks, yLabels: false, xLabels: false },
  { id: 'z', label: labelZ, grey: [{ data: zGrey, unit: 100 }, { data: zGrey2, unit: 1000 }], binned: zBinned, model: zModel, x: LEFT_X, y: ROW_TOPS[2], w: HALF_W[0], h: ROW_H, yDomain: [0.975, 1.02], yTicks: rowYTicks, yLabels: true, xLabels: false },
  { id: 'blue', label: labelBlue, grey: [{ data: blueGrey, unit: 100 }], binned: blueBinned, model: blueModel, x: RIGHT_X, y: ROW_TOPS[2], w: HALF_W[1], h: ROW_H, yDomain: [0.975, 1.02], yTicks: rowYTicks, yLabels: false, xLabels: false },
  { id: 'iz', label: labelIZ, grey: [{ data: izGrey, unit: 100 }, { data: izGrey2, unit: 1000 }], binned: izBinned, model: izModel, x: LEFT_X, y: ROW_TOPS[3], w: HALF_W[0], h: ROW_H, yDomain: [0.975, 1.02], yTicks: rowYTicks, yLabels: true, xLabels: true },
  { id: 'extra', label: labelExtra, grey: [{ data: extraGrey, unit: 100 }], binned: extraBinned, model: extraModel, x: RIGHT_X, y: ROW_TOPS[3], w: HALF_W[1], h: ROW_H, yDomain: [0.975, 1.02], yTicks: rowYTicks, yLabels: false, xLabels: true },
];

const fmtX = d3.format('.1f');
const fmtY = d3.format('.2f');

function toPoints(sets: GreySet[]): [number, number][] {
  const out: [number, number][] = [];
  sets.forEach(({ data, unit }) => {
    for (let k = 0; k + 1 < data.length; k += 2) out.push([data[k] / unit, 1 + data[k + 1] / 1e4]);
  });
  return out;
}

function Panel({ p }: { p: PanelSpec }) {
  const xs = d3.scaleLinear().domain([-1.5, 1.5]).range([p.x, p.x + p.w]);
  const ys = d3.scaleLinear().domain(p.yDomain).range([p.y + p.h, p.y]);
  const pts = toPoints(p.grey);
  const modelPath =
    d3
      .line<number>()
      .x((_, i) => xs(modelTimes[i]))
      .y((d) => ys(d))
      .curve(d3.curveMonotoneX)(p.model) || '';
  const clipId = `clip-${p.id}`;
  const bottom = p.y + p.h;
  return (
    <g>
      <defs>
        <clipPath id={clipId}>
          <rect x={p.x} y={p.y} width={p.w} height={p.h} />
        </clipPath>
      </defs>
      <g clipPath={`url(#${clipId})`}>
        {pts.map(([t, f], i) => (
          <circle key={i} cx={xs(t)} cy={ys(f)} r={1.3} fill="#a3a3a3" />
        ))}
        <path d={modelPath} fill="none" stroke="#ff0000" strokeWidth={2} />
        {p.binned.map(([t, f, e], i) => (
          <g key={i}>
            <line x1={xs(t)} x2={xs(t)} y1={ys(f - e)} y2={ys(f + e)} stroke="#000" strokeWidth={2.2} />
            <circle cx={xs(t)} cy={ys(f)} r={3.2} fill="#000" />
          </g>
        ))}
      </g>
      <rect x={p.x} y={p.y} width={p.w} height={p.h} fill="none" stroke="#222" strokeWidth={1} />
      {p.yTicks.map((v) => (
        <g key={`y${v}`}>
          <line x1={p.x - 4.5} x2={p.x} y1={ys(v)} y2={ys(v)} stroke="#222" strokeWidth={1} />
          {p.yLabels && (
            <text x={p.x - 8.5} y={ys(v) + 4.6} textAnchor="end" fontSize={13} fontFamily={FONT} fill="#111">
              {fmtY(v)}
            </text>
          )}
        </g>
      ))}
      {xTicks.map((v) => (
        <g key={`x${v}`}>
          <line x1={xs(v)} x2={xs(v)} y1={bottom} y2={bottom + 4.5} stroke="#222" strokeWidth={1} />
          {p.xLabels && (
            <text x={xs(v)} y={bottom + 19} textAnchor="middle" fontSize={13} fontFamily={FONT} fill="#111">
              {fmtX(v)}
            </text>
          )}
        </g>
      ))}
      <text x={p.x + 16} y={p.y + 28} fontSize={17.5} fontFamily={FONT} fill="#000">
        {p.label.map((s, i) => (
          <tspan key={i} fontStyle={s.i ? 'italic' : 'normal'} dx={s.dx}>
            {s.t}
          </tspan>
        ))}
      </text>
    </g>
  );
}

export default function App() {
  return (
    <svg
      width={W}
      height={H}
      viewBox={`0 0 ${W} ${H}`}
      style={{ position: 'absolute', left: 0, top: 0, background: '#fff' }}
    >
      <rect x={0} y={0} width={W} height={H} fill="#fff" />
      {panels.map((p) => (
        <Panel key={p.id} p={p} />
      ))}
      <text x={610} y={1474} textAnchor="middle" fontSize={21.5} fontFamily={FONT} fill="#000">
        {xLabel}
      </text>
      <text transform="rotate(-90)" x={-714} y={28} textAnchor="middle" fontSize={21.5} fontFamily={FONT} fill="#000">
        {yLabel}
      </text>
    </svg>
  );
}
